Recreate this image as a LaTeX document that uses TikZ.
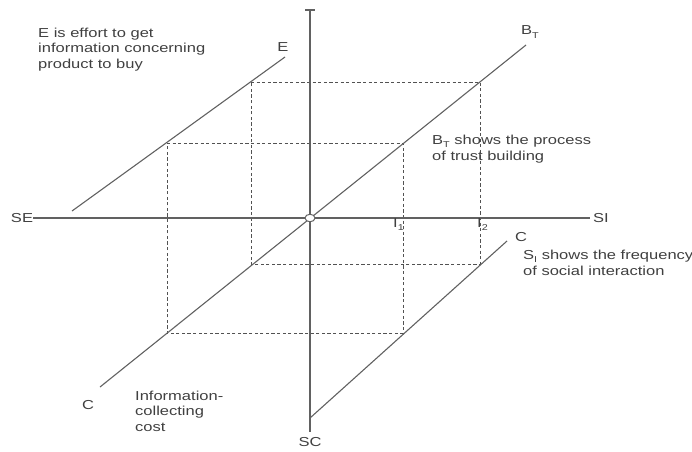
\documentclass[tikz,border=0pt]{standalone}
\usepackage{fontspec}
\usetikzlibrary{shapes.geometric}
\setmainfont[FakeStretch=1.27]{Liberation Sans}
\newcommand\mysub[1]{\raisebox{-0.45ex}{\fontsize{8.5}{8.5}\selectfont #1}}
\begin{document}
\begin{tikzpicture}[x=1pt,y=-1pt,
  axisline/.style={draw=black!62, line width=1.1pt},
  dashline/.style={draw=black!68, line width=1pt, dash pattern=on 3.2pt off 2.4pt},
  txt/.style={inner sep=0pt, text=black!75, font=\fontsize{13}{15.5}\selectfont, align=left},
  lbl/.style={inner sep=0pt, text=black!75, font=\fontsize{13}{15.5}\selectfont}]
\useasboundingbox (0,0) rectangle (692,451);
% coordinates
\coordinate (ax1) at (310,10);
\coordinate (ax2) at (310,432);
\coordinate (ah1) at (33,218);
\coordinate (ah2) at (590,218);
\coordinate (tk1) at (305,10);
\coordinate (tk2) at (315,10);
\coordinate (e1) at (72,211);
\coordinate (e2) at (285,57);
\coordinate (b1) at (100,387);
\coordinate (b2) at (526,45);
\coordinate (c1) at (310,418);
\coordinate (c2) at (507,241);
% upper rectangle
\coordinate (u1) at (251,82);
\coordinate (u2) at (480,82);
\coordinate (u3) at (480,264);
\coordinate (u4) at (251,264);
% lower rectangle
\coordinate (l1) at (167,143);
\coordinate (l2) at (403,143);
\coordinate (l3) at (403,333);
\coordinate (l4) at (167,333);
% dashed
\draw[dashline] (u1) -- (u2) -- (u3) -- (u4) -- cycle;
\draw[dashline] (l1) -- (l2) -- (l3) -- (l4) -- cycle;
% solid lines
\draw[axisline] (ax1) -- (ax2);
\draw[axisline] (tk1) -- (tk2);
\draw[axisline] (ah1) -- (ah2);
\draw[axisline] (e1) -- (e2);
\draw[axisline] (b1) -- (b2);
\draw[axisline] (c1) -- (c2);
\node[ellipse, draw=black!62, fill=white, line width=1pt, minimum width=10pt, minimum height=7.5pt, inner sep=0pt] (o) at (310,218) {};
% labels
\node[lbl] (lSE) at (22,218) {SE};
\node[lbl] (lSI) at (601,218) {SI};
\node[lbl] (lSC) at (310,442) {SC};
\node[lbl] (lE) at (283,47) {E};
\node[lbl] (lBT) at (530,32) {B\mysub{T}};
\node[lbl] (lCr) at (521,237) {C};
\node[lbl] (lCl) at (88,405) {C};
\node[lbl, anchor=north west] (lI1) at (393,218.5) {I\mysub{1}};
\node[lbl, anchor=north west] (lI2) at (477,218.5) {I\mysub{2}};
% texts (base = baseline of last line)
\node[txt, anchor=base west] (tE) at (38,68) {E is effort to get\\information concerning\\product to buy};
\node[txt, anchor=base west] (tBT) at (432,160) {B\mysub{T} shows the process\\of trust building};
\node[txt, anchor=base west] (tSI) at (523,275) {S\mysub{I} shows the frequency\\of social interaction};
\node[txt, anchor=base west] (tC) at (135,431) {Information-\\collecting\\cost};
\end{tikzpicture}
\end{document}
